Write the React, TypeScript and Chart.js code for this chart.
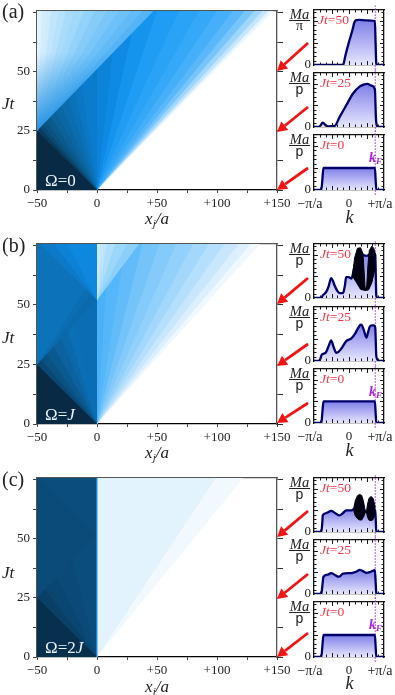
import React, { useEffect, useRef } from "react";
import { Chart, registerables } from "chart.js";
Chart.register(...registerables);

const SERIF = "'Liberation Serif', serif";
const T_TOP = 75.6;

// ---------- data: wavefront boundaries of the density maps ----------
const xTickValues = [-50, -25, 0, 25, 50, 75, 100, 125, 150];
const xTickLabels: Record<number, string> = { [-50]: "\u221250", 0: "0", 50: "+50", 100: "+100", 150: "+150" };
const tTickValues = [0, 12.5, 25, 37.5, 50, 62.5, 75];
const tTickLabels: Record<number, string> = { 0: "0", 25: "25", 50: "50" };

// panel (a)
const aRightTopX = [147, 143, 138, 131, 123, 113, 100, 85, 68, 50, 33, 17, 0];
const aRightColors = ["#eaf6fe", "#c6e6fd", "#a0d6fc", "#78c5fb", "#5ab8fa", "#45aff9", "#35a8f8", "#2aa3f7", "#1f9cf4", "#1594ee", "#0f8ae4", "#0c82d8", "#0b7bcc"];
const aLeftY = [170, 110, 80, 60, 48, 40, 34, 30, 27.5, 25];
const aLeftColors = ["#0b76c2", "#0b71b8", "#0b6cae", "#0b67a4", "#0b6198", "#0a5a8c", "#0a527f", "#0a4870", "#083d5f", "#082a44"];
const aReflectTopX = [47, 38, 28, 18, 8, -2, -11, -19, -26, -32, -38, -42, -46, -49];
const aReflectColors = ["#55b4f6", "#62bbf7", "#6ec1f8", "#7ac6f8", "#87ccf9", "#93d2fa", "#a2d8fa", "#a9dbfb", "#b8e1fb", "#c0e5fc", "#cfebfc", "#d4edfd", "#e0f2fd", "#e6f5fe"];

// panel (b)
const bRightTopX = [136, 128, 118, 106, 93, 80, 66, 52, 38, 24, 10];
const bRightColors = ["#eff8fe", "#dceffe", "#c8e7fd", "#b4dffd", "#a3d8fc", "#92d1fb", "#84cbfb", "#74c4fa", "#62bcfa", "#55b6f9", "#4ab1f9"];
const bEchoTopX = [35, 25, 15, 8, 3];
const bEchoColors = ["#8dcffb", "#9bd6fb", "#aedefc", "#bfe5fc", "#cbeafc"];
const bLeftY = [120, 80, 60, 45, 35, 29, 25];
const bLeftColors = ["#0b6fb6", "#0b69aa", "#0b629e", "#0a5a90", "#0a5282", "#0a4873", "#082a44"];
const bReflectEdgeY = [52, 58, 64];
const bReflectColors = ["#0b6aab", "#0b6eb2", "#0c73bb"];
const bEchoLeftY = [77, 85, 100];
const bEchoLeftColors = ["#0c7ac8", "#0d81d6", "#0e87df"];

// panel (c)
const cRightTopX = [122, 99];
const cRightColors = ["#f1f8fe", "#e2f3fd"];
const cLeftY = [100, 50, 33, 25];
const cLeftColors = ["#0b4a78", "#0a4672", "#0a3f66", "#07304f"];

// ---------- data: momentum distributions (k in units of pi/a) ----------
const a50 = [[-1, 0], [-0.2, 0], [-0.16, 0.04], [-0.1, 0.45], [0, 1.05], [0.1, 1.6], [0.15, 1.92], [0.2, 2.04], [0.3, 2.05], [0.5, 2.03], [0.74, 2.0], [0.76, 1.0], [0.78, 0.06], [0.82, 0], [1, 0]];
const a25 = [[-1, 0], [-0.87, 0], [-0.82, 0.06], [-0.75, 0.2], [-0.68, 0.1], [-0.6, 0.03], [-0.41, 0.05], [-0.27, 0.46], [-0.08, 1.0], [0.11, 1.54], [0.31, 1.88], [0.45, 1.98], [0.52, 2.0], [0.64, 1.92], [0.74, 1.74], [0.77, 0.4], [0.8, 0.05], [0.85, 0], [1, 0]];
const a0 = [[-1, 0], [-0.79, 0], [-0.76, 0.5], [-0.73, 1], [0.74, 1], [0.76, 0.5], [0.78, 0], [1, 0]];

const b50 = [[-1, 0], [-0.79, 0], [-0.75, 0.12], [-0.65, 0.28], [-0.58, 0.55], [-0.51, 0.92], [-0.46, 0.8], [-0.41, 0.58], [-0.33, 0.32], [-0.27, 0.23], [-0.17, 0.23], [-0.12, 0.55], [-0.08, 0.97], [-0.01, 0.97], [0.07, 0.9], [0.16, 1.5], [0.3, 2.05], [0.5, 1.95], [0.7, 2.1], [0.75, 2.0], [0.78, 0.1], [0.83, 0], [1, 0]];
const b50EnvelopeTop = [[0.1, 1.0], [0.16, 1.85], [0.24, 2.3], [0.33, 2.33], [0.4, 2.05], [0.46, 0.5], [0.5, 0.42], [0.54, 1.5], [0.58, 2.2], [0.65, 2.4], [0.71, 2.3], [0.75, 2.0]];
const b50EnvelopeBottom = [[0.1, 1.0], [0.2, 0.75], [0.33, 0.4], [0.46, 0.35], [0.5, 0.35], [0.56, 0.38], [0.65, 0.7], [0.75, 1.4]];
const b25 = [[-1, 0], [-0.86, 0], [-0.82, 0.1], [-0.775, 0.3], [-0.67, 0.38], [-0.58, 0.7], [-0.51, 0.95], [-0.44, 0.65], [-0.36, 0.38], [-0.3, 0.42], [-0.22, 0.57], [-0.08, 0.92], [0.07, 1.05], [0.16, 1.23], [0.31, 1.65], [0.35, 1.68], [0.42, 1.45], [0.5, 1.08], [0.54, 1.3], [0.59, 1.58], [0.65, 1.65], [0.71, 1.65], [0.75, 1.54], [0.78, 0.23], [0.82, 0.05], [0.87, 0], [1, 0]];
const b0 = [[-1, 0], [-0.79, 0], [-0.76, 0.5], [-0.73, 1], [0.74, 1], [0.76, 0.5], [0.78, 0], [1, 0]];

const c50 = [[-1, 0], [-0.79, 0], [-0.76, 0.5], [-0.75, 0.77], [-0.65, 0.88], [-0.51, 0.98], [-0.4, 0.88], [-0.27, 0.77], [-0.17, 0.88], [-0.08, 1.0], [0.07, 1.0], [0.16, 1.08], [0.3, 1.1], [0.48, 0.94], [0.62, 1.05], [0.75, 1.0], [0.78, 0.05], [0.83, 0], [1, 0]];
const c50EnvelopeTop = [[0.13, 1.06], [0.18, 1.45], [0.24, 1.68], [0.3, 1.74], [0.36, 1.7], [0.41, 1.45], [0.45, 1.1], [0.47, 0.95], [0.5, 0.95], [0.53, 1.3], [0.57, 1.55], [0.63, 1.65], [0.69, 1.55], [0.73, 1.3], [0.75, 1.1]];
const c50EnvelopeBottom = [[0.13, 1.0], [0.18, 0.75], [0.24, 0.62], [0.3, 0.56], [0.36, 0.55], [0.41, 0.68], [0.45, 0.85], [0.47, 0.93], [0.5, 0.93], [0.53, 0.68], [0.57, 0.55], [0.63, 0.52], [0.69, 0.58], [0.73, 0.75], [0.75, 0.9]];
const c25 = [[-1, 0], [-0.79, 0], [-0.76, 0.4], [-0.73, 0.8], [-0.6, 0.9], [-0.51, 0.97], [-0.4, 0.88], [-0.29, 0.8], [-0.17, 0.94], [0.07, 0.97], [0.2, 1.03], [0.31, 1.12], [0.5, 0.98], [0.62, 1.03], [0.74, 1.1], [0.76, 0.6], [0.78, 0.04], [0.83, 0], [1, 0]];
const c0 = [[-1, 0], [-0.79, 0], [-0.76, 0.5], [-0.73, 1], [0.74, 1], [0.76, 0.5], [0.78, 0], [1, 0]];

const kFermi = 0.75;
const kMajorTicks = [-0.5, 0, 0.5];
const kMinorTicks = [-0.833, -0.667, -0.333, -0.167, 0.167, 0.333, 0.667, 0.833];
const nMajorTicks = [1, 2];
const nMinorTicks = [0.2, 0.4, 0.6, 0.8, 1.2, 1.4, 1.6, 1.8, 2.2, 2.4];

// ---------- layers ----------
type Pt = number[];
type Layer = { pts: Pt[]; to: "end" | "start"; color: string; low?: string };

const layers = (list: Pt[][], to: "end" | "start", colors: string[], low?: string): Layer[] =>
  list.map((pts, i) => ({ pts, to, color: colors[i], low }));

const layersA: Layer[] = [
  ...layers(aRightTopX.map((x) => [[-50, 0], [0, 0], [x, T_TOP]]), "end", aRightColors),
  ...layers(aLeftY.map((y) => [[-50, y], [0, 0]]), "start", aLeftColors),
  ...layers(aReflectTopX.map((x) => [[-50, 25], [x, T_TOP]]), "end", aReflectColors, "#2a94e2"),
];
const layersB: Layer[] = [
  ...layers(bRightTopX.map((x) => [[0, 0], [x, T_TOP]]), "end", bRightColors),
  ...layers(bEchoTopX.map((x) => [[0, 52], [x, T_TOP]]), "end", bEchoColors),
  { pts: [[-50, 0], [0, 0]], to: "end", color: "#0b6eb5" },
  ...layers(bLeftY.map((y) => [[-50, y], [0, 0]]), "start", bLeftColors),
  ...layers(bReflectEdgeY.map((y) => [[-50, 25], [0, y]]), "end", bReflectColors),
  ...layers(bEchoLeftY.map((y) => [[-50, y], [0, 52]]), "end", bEchoLeftColors),
];
const layersC: Layer[] = [
  ...layers(cRightTopX.map((x) => [[0, 0], [x, T_TOP]]), "end", cRightColors),
  { pts: [[-50, 0], [0, 0]], to: "end", color: "#0b4d7d" },
  ...layers(cLeftY.map((y) => [[-50, y], [0, 0]]), "start", cLeftColors),
  { pts: [[-50, 25], [0, 52]], to: "end", color: "#0b4b79" },
  { pts: [[-50, 77], [0, 52]], to: "end", color: "#0b4d7c" },
];

// ---------- axis helper: every axis has no size, the space comes from the layout padding ----------
function axis(position: string, min: number, max: number, values: number[], o: any = {}) {
  const horizontal = position === "top" || position === "bottom";
  return {
    type: "linear",
    position,
    min,
    max,
    afterBuildTicks: (s: any) => { s.ticks = values.map((value) => ({ value })); },
    afterFit: (s: any) => {
      if (horizontal) s.height = 0; else s.width = 0;
      s.paddingLeft = s.paddingRight = s.paddingTop = s.paddingBottom = 0;
      s._computeLabelArea = () => undefined;
    },
    border: o.border ? { display: true, color: o.border, width: o.borderWidth ?? 1.3 } : { display: false },
    grid: {
      drawOnChartArea: false,
      drawTicks: !!o.tick,
      tickLength: o.tick ?? 0,
      tickColor: o.tickColor ?? "#222",
      tickWidth: 1,
    },
    ticks: {
      display: !!o.labels,
      autoSkip: false,
      maxRotation: 0,
      minRotation: 0,
      padding: o.padding ?? 3,
      labelOffset: o.labelOffset ?? 0,
      color: "#222",
      font: { family: SERIF, size: o.fontSize ?? 13 },
      callback: (v: number) => (o.labels ? o.labels[v] ?? "" : ""),
    },
  };
}

// Ticks pointing into the frame on all four sides of a momentum panel.
const inwardTicks = {
  id: "inwardTicks",
  afterDraw(chart: any) {
    const { ctx, chartArea: a, scales } = chart;
    const seg = (x1: number, y1: number, x2: number, y2: number) => {
      ctx.beginPath();
      ctx.moveTo(x1, y1);
      ctx.lineTo(x2, y2);
      ctx.stroke();
    };
    ctx.save();
    ctx.strokeStyle = "#1a1a1a";
    ctx.lineWidth = 1;
    const kTicks = (vals: number[], len: number) =>
      vals.forEach((v) => {
        const p = Math.round(scales.x.getPixelForValue(v)) + 0.5;
        seg(p, a.top, p, a.top + len);
        seg(p, a.bottom, p, a.bottom - len);
      });
    const nTicks = (vals: number[], len: number) =>
      vals.forEach((v) => {
        const p = Math.round(scales.y.getPixelForValue(v)) + 0.5;
        seg(a.left, p, a.left + len, p);
        seg(a.right, p, a.right - len, p);
      });
    kTicks(kMajorTicks, 4);
    kTicks(kMinorTicks, 2.5);
    nTicks(nMajorTicks, 4);
    nTicks(nMinorTicks, 2.5);
    ctx.restore();
  },
};

function ChartBox({ rect, config }: { rect: number[]; config: any }) {
  const ref = useRef<HTMLCanvasElement>(null);
  useEffect(() => {
    const c = new Chart(ref.current as HTMLCanvasElement, config);
    return () => c.destroy();
  }, []);
  return (
    <canvas
      ref={ref}
      width={rect[2]}
      height={rect[3]}
      style={{ position: "absolute", left: rect[0], top: rect[1], width: rect[2], height: rect[3] }}
    />
  );
}

const baseOptions = (pad: any, scales: any) => ({
  animation: false,
  responsive: false,
  devicePixelRatio: 1,
  layout: { padding: pad },
  plugins: { legend: { display: false }, tooltip: { enabled: false } },
  events: [],
  scales,
});

// ---------- density map ----------
const H_LEFT = 37, H_RIGHT = 277, H_PAD = { left: 37, right: 18, top: 3, bottom: 30 };

function heatConfig(list: Layer[], edge: boolean) {
  const datasets: any[] = list.map((l) => ({
    data: l.pts.map(([x, y]) => ({ x, y })),
    fill: l.to,
    backgroundColor: l.low
      ? (ctx: any) => {
          const { chart } = ctx;
          if (!chart.chartArea) return l.color;
          const y = chart.scales.y;
          const g = chart.ctx.createLinearGradient(0, y.getPixelForValue(25), 0, y.getPixelForValue(58));
          g.addColorStop(0, l.low);
          g.addColorStop(1, l.color);
          return g;
        }
      : l.color,
    borderColor: "transparent",
    borderWidth: 0,
    pointRadius: 0,
  }));
  if (edge) {
    datasets.push({
      data: [{ x: 0, y: 0 }, { x: 0, y: T_TOP }],
      fill: false,
      borderColor: "#3aa6f2",
      borderWidth: 1.2,
      pointRadius: 0,
    });
  }
  datasets.reverse();
  return {
    type: "line",
    data: { datasets },
    options: baseOptions(H_PAD, {
      x: axis("bottom", -50, 150, xTickValues, { labels: xTickLabels, tick: 3, border: "#000", tickColor: "#444", padding: 3 }),
      x2: axis("top", -50, 150, [], { border: "#555" }),
      y: axis("left", 0, T_TOP, tTickValues, { labels: tTickLabels, tick: 4, border: "#555", tickColor: "#444", padding: 3 }),
      y2: axis("right", 0, T_TOP, tTickValues, { tick: 6, border: "#555", tickColor: "#333" }),
    }),
  };
}

// ---------- momentum panel ----------
const M_LEFT = 314, M_RIGHT = 384, M_PAD = { left: 26, right: 14, top: 5, bottom: 6 };
const M_PAD_LAST = { left: 26, right: 14, top: 5, bottom: 22 };
const N_MAX = 2.5;

function momentumConfig(curve: number[][], top: number[][] | null, bottom: number[][] | null, last: boolean) {
  const peak = Math.max(...curve.map((p) => p[1]));
  const pts = (a: number[][]) => a.map(([x, y]) => ({ x, y }));
  const gradient = (ctx: any) => {
    const { chart } = ctx;
    if (!chart.chartArea) return "#9090f0";
    const y = chart.scales.y;
    const g = chart.ctx.createLinearGradient(0, y.getPixelForValue(peak), 0, y.getPixelForValue(0));
    g.addColorStop(0, "#7f7fe8");
    g.addColorStop(1, "#e6e6ff");
    return g;
  };
  const datasets: any[] = [];
  if (top && bottom) {
    datasets.push({ data: pts(top), fill: "+1", backgroundColor: "#000010", borderColor: "#000010", borderWidth: 1, pointRadius: 0 });
    datasets.push({ data: pts(bottom), fill: false, borderColor: "#000010", borderWidth: 1, pointRadius: 0 });
  }
  datasets.push({ data: pts(curve), fill: "origin", backgroundColor: gradient, borderColor: "#00006b", borderWidth: 2.3, pointRadius: 0, cubicInterpolationMode: "monotone" });
  datasets.push({
    data: pts([[kFermi, -0.22], [kFermi, N_MAX + 0.2]]),
    fill: false,
    borderColor: "#a424dc",
    borderWidth: 1,
    borderDash: [1.5, 1.5],
    pointRadius: 0,
    clip: false,
  });
  return {
    type: "line",
    data: { datasets },
    plugins: [inwardTicks],
    options: baseOptions(last ? M_PAD_LAST : M_PAD, {
      x: axis("bottom", -1, 1, [0], { labels: last ? { 0: "0" } : undefined, border: "#111", padding: 6 }),
      x4: axis("bottom", -1, 1, [-1, 1], { labels: last ? { [-1]: "\u2212\u03c0/a", 1: "+\u03c0/a" } : undefined, padding: 6, labelOffset: -4, fontSize: 14 }),
      x2: axis("top", -1, 1, [], { border: "#111" }),
      y: axis("left", 0, N_MAX, [0], { labels: { 0: "0" }, border: "#111", padding: 3 }),
      y2: axis("right", 0, N_MAX, [], { border: "#111" }),
    }),
  };
}

// ---------- small text helpers ----------
const Txt = ({ x, y, c, style, children }: any) => (
  <div
    style={{
      position: "absolute",
      left: x,
      top: y,
      transform: c ? "translate(-50%,-50%)" : "translateY(-50%)",
      whiteSpace: "nowrap",
      fontFamily: SERIF,
      lineHeight: 1,
      color: "#222",
      ...style,
    }}
  >
    {children}
  </div>
);

const Fraction = ({ top, pi }: { top: number; pi: boolean }) => (
  <div style={{ position: "absolute", left: 289, top: top - 1, width: 21, textAlign: "center", color: "#222" }}>
    <div style={{ fontFamily: SERIF, fontStyle: "italic", fontSize: 14.5, lineHeight: "11px", height: 11 }}>Ma</div>
    <div style={{ height: 1, background: "#222" }} />
    <div style={{ fontFamily: pi ? SERIF : "'Liberation Sans', sans-serif", fontSize: 14, lineHeight: "10px", height: 10 }}>{pi ? "\u03c0" : "p"}</div>
  </div>
);

function Arrow({ from, to }: { from: number[]; to: number[] }) {
  const dx = to[0] - from[0], dy = to[1] - from[1];
  const L = Math.hypot(dx, dy), ux = dx / L, uy = dy / L;
  const bx = to[0] - ux * 10, by = to[1] - uy * 10;
  const px = -uy * 5.5, py = ux * 5.5;
  return (
    <g>
      <line x1={from[0]} y1={from[1]} x2={bx} y2={by} stroke="#f01414" strokeWidth={2.8} />
      <polygon points={`${to[0]},${to[1]} ${bx + px},${by + py} ${bx - px},${by - py}`} fill="#f01414" />
    </g>
  );
}

// ---------- layout of the three rows ----------
const ROWS = [
  {
    letter: "(a)", letterY: 11, heat: [11, 190], layers: layersA, edge: false, omega: ["\u03a9=0"], tx: 218,
    tRow: 103, panels: [[10, 65], [73, 127], [135, 190]],
    curves: [[a50, null, null], [a25, null, null], [a0, null, null]], firstPi: true,
    arrows: [[[308, 43], [277, 71]], [[308, 107], [277, 132]], [[308, 168], [277, 190]]],
    kY: 217,
  },
  {
    letter: "(b)", letterY: 245, heat: [244, 424], layers: layersB, edge: false, omega: ["\u03a9=", "J"], tx: 452,
    tRow: 337, panels: [[244, 298], [307, 361], [369, 423]],
    curves: [[b50, b50EnvelopeTop, b50EnvelopeBottom], [b25, null, null], [b0, null, null]], firstPi: false,
    arrows: [[[308, 278], [277, 304]], [[308, 344], [277, 366]], [[308, 403], [277, 423]]],
    kY: 450,
  },
  {
    letter: "(c)", letterY: 479, heat: [478, 657], layers: layersC, edge: true, omega: ["\u03a9=2", "J"], tx: 686,
    tRow: 572, panels: [[478, 532], [540, 594], [602, 657]],
    curves: [[c50, c50EnvelopeTop, c50EnvelopeBottom], [c25, null, null], [c0, null, null]], firstPi: false,
    arrows: [[[308, 511], [277, 537]], [[308, 574], [277, 599]], [[308, 633], [277, 657]]],
    kY: 683,
  },
];
const TIMES = ["50", "25", "0"];

export default function App() {
  return (
    <div style={{ position: "absolute", left: 0, top: 0, width: 395, height: 695, overflow: "hidden", background: "#fff" }}>
      {ROWS.map((r) => (
        <React.Fragment key={r.letter}>
          <ChartBox
            rect={[H_LEFT - H_PAD.left, r.heat[0] - H_PAD.top, H_RIGHT - H_LEFT + H_PAD.left + H_PAD.right, r.heat[1] - r.heat[0] + H_PAD.top + H_PAD.bottom]}
            config={heatConfig(r.layers, r.edge)}
          />
          {r.panels.map((p, i) => {
            const last = i === 2;
            const pad = last ? M_PAD_LAST : M_PAD;
            const cv = r.curves[i] as any[];
            return (
              <ChartBox
                key={i}
                rect={[M_LEFT - pad.left, p[0] - pad.top, M_RIGHT - M_LEFT + pad.left + pad.right, p[1] - p[0] + pad.top + pad.bottom]}
                config={momentumConfig(cv[0], cv[1], cv[2], last)}
              />
            );
          })}
          <Txt x={2} y={r.letterY} style={{ fontSize: 20 }}>{r.letter}</Txt>
          <Txt x={2} y={r.tRow} style={{ fontSize: 17, fontStyle: "italic" }}>Jt</Txt>
          <Txt x={157} y={r.tx} c style={{ fontSize: 17, fontStyle: "italic" }}>
            x<sub style={{ fontSize: 11, verticalAlign: "-3px", lineHeight: 0 }}>j</sub>/a
          </Txt>
          <Txt x={349.5} y={r.kY} c style={{ fontSize: 18, fontStyle: "italic" }}>k</Txt>
          <Txt x={45} y={r.heat[1] - 10} style={{ fontSize: 17, color: "#eaf5ff" }}>
            {r.omega[0]}
            {r.omega[1] ? <i>{r.omega[1]}</i> : null}
          </Txt>
          {r.panels.map((p, i) => (
            <React.Fragment key={i}>
              <Fraction top={p[0]} pi={r.firstPi && i === 0} />
              <Txt x={i === 0 && r.firstPi ? 318 : 320} y={p[0] + 10} style={{ fontSize: 13.5, color: "#f0384a" }}>
                <i>Jt</i>={TIMES[i]}
              </Txt>
            </React.Fragment>
          ))}
          <Txt x={369} y={r.panels[2][0] + 23} style={{ fontSize: 14, color: "#a424dc", fontWeight: "bold", fontStyle: "italic" }}>
            k<sub style={{ fontSize: 9, verticalAlign: "-2px", lineHeight: 0 }}>F</sub>
          </Txt>
        </React.Fragment>
      ))}
      <svg width={395} height={695} style={{ position: "absolute", left: 0, top: 0, pointerEvents: "none" }}>
        {ROWS.flatMap((r) => r.arrows.map((a, i) => <Arrow key={r.letter + i} from={a[0]} to={a[1]} />))}
      </svg>
    </div>
  );
}
